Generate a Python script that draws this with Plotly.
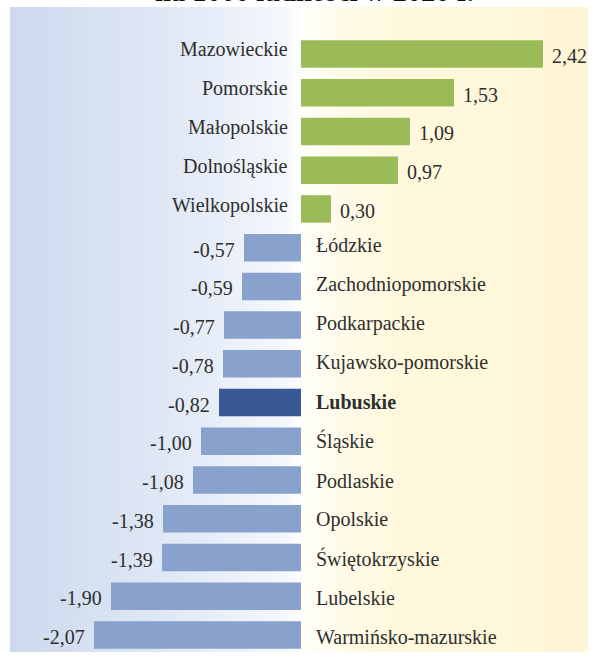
import plotly.graph_objects as go

# ---- data ----
regions = ["Mazowieckie", "Pomorskie", "Małopolskie", "Dolnośląskie", "Wielkopolskie",
           "Łódzkie", "Zachodniopomorskie", "Podkarpackie", "Kujawsko-pomorskie", "Lubuskie",
           "Śląskie", "Podlaskie", "Opolskie", "Świętokrzyskie", "Lubelskie", "Warmińsko-mazurskie"]
values = [2.42, 1.53, 1.09, 0.97, 0.30,
          -0.57, -0.59, -0.77, -0.78, -0.82,
          -1.00, -1.08, -1.38, -1.39, -1.90, -2.07]
highlight = "Lubuskie"
title_text = "na 1000 ludności w 2020 r."

# ---- styling ----
W, H = 598, 657
FONT = "Liberation Serif"
TXT = "#2e2e2e"
POS_C = "#9bbb59"
NEG_C = "#88a2cd"
HL_C = "#3a5894"

colors = [HL_C if r == highlight else (POS_C if v >= 0 else NEG_C) for r, v in zip(regions, values)]

fig = go.Figure(go.Bar(
    x=values, y=regions, orientation="h",
    marker=dict(color=colors, line=dict(width=0)),
    width=0.71, hoverinfo="skip",
))

ann = []
for i, (r, v) in enumerate(zip(regions, values)):
    lab = f"{v:.2f}".replace(".", ",")
    name = f"<b>{r}</b>" if r == highlight else r
    name_shift = 5 - 0.5 * i  # category labels spread slightly wider than bars
    if v >= 0:
        ann.append(dict(x=0, y=r, text=name, xanchor="right", xshift=-11, yshift=name_shift, showarrow=False))
        ann.append(dict(x=v, y=r, text=lab, xanchor="left", xshift=7, yshift=-2, showarrow=False))
    else:
        ann.append(dict(x=0, y=r, text=name, xanchor="left", xshift=13, yshift=name_shift, showarrow=False))
        ann.append(dict(x=v, y=r, text=lab, xanchor="right", xshift=-7, yshift=-2, showarrow=False))
for a in ann:
    a["font"] = dict(family=FONT, size=20, color=TXT)

# partially visible title at the very top (cut off, as in the source)
ann.append(dict(x=314 / W, y=1 - 9 / H, xref="paper", yref="paper", text=f"<b>{title_text}</b>",
                showarrow=False, xanchor="center", yanchor="bottom",
                font=dict(family=FONT, size=28.5, color="#111111")))

# gradient background panel (strips)
stops = [(10, (204, 218, 238)), (150, (221, 230, 244)), (285, (244, 247, 252)),
         (302, (255, 255, 252)), (340, (255, 251, 233)), (400, (255, 248, 221)), (588, (255, 246, 214))]


def col_at(px):
    for (a, ca), (b, cb) in zip(stops[:-1], stops[1:]):
        if a <= px <= b:
            t = (px - a) / (b - a)
            return "rgb(%d,%d,%d)" % tuple(round(ca[k] + (cb[k] - ca[k]) * t) for k in range(3))
    return "rgb(%d,%d,%d)" % stops[-1][1]


shapes = []
step = 3
for px in range(10, 588, step):
    shapes.append(dict(type="rect", xref="paper", yref="paper", layer="below",
                       x0=px / W, x1=min(px + step + 0.5, 588) / W,
                       y0=1 - 652 / H, y1=1 - 7 / H,
                       fillcolor=col_at(px + step / 2), line=dict(width=0)))

fig.update_layout(
    width=W, height=H,
    margin=dict(l=0, r=0, t=0, b=0),
    paper_bgcolor="white", plot_bgcolor="rgba(0,0,0,0)",
    showlegend=False,
    annotations=ann, shapes=shapes,
    xaxis=dict(range=[-3.01, 2.97], visible=False, fixedrange=True),
    yaxis=dict(range=[15.569, -1.3943], visible=False, categoryorder="array",
               categoryarray=regions, fixedrange=True),
    font=dict(family=FONT),
)

fig.write_html("out.html", config={"displayModeBar": False},
               post_script="document.body.style.margin='0';")
